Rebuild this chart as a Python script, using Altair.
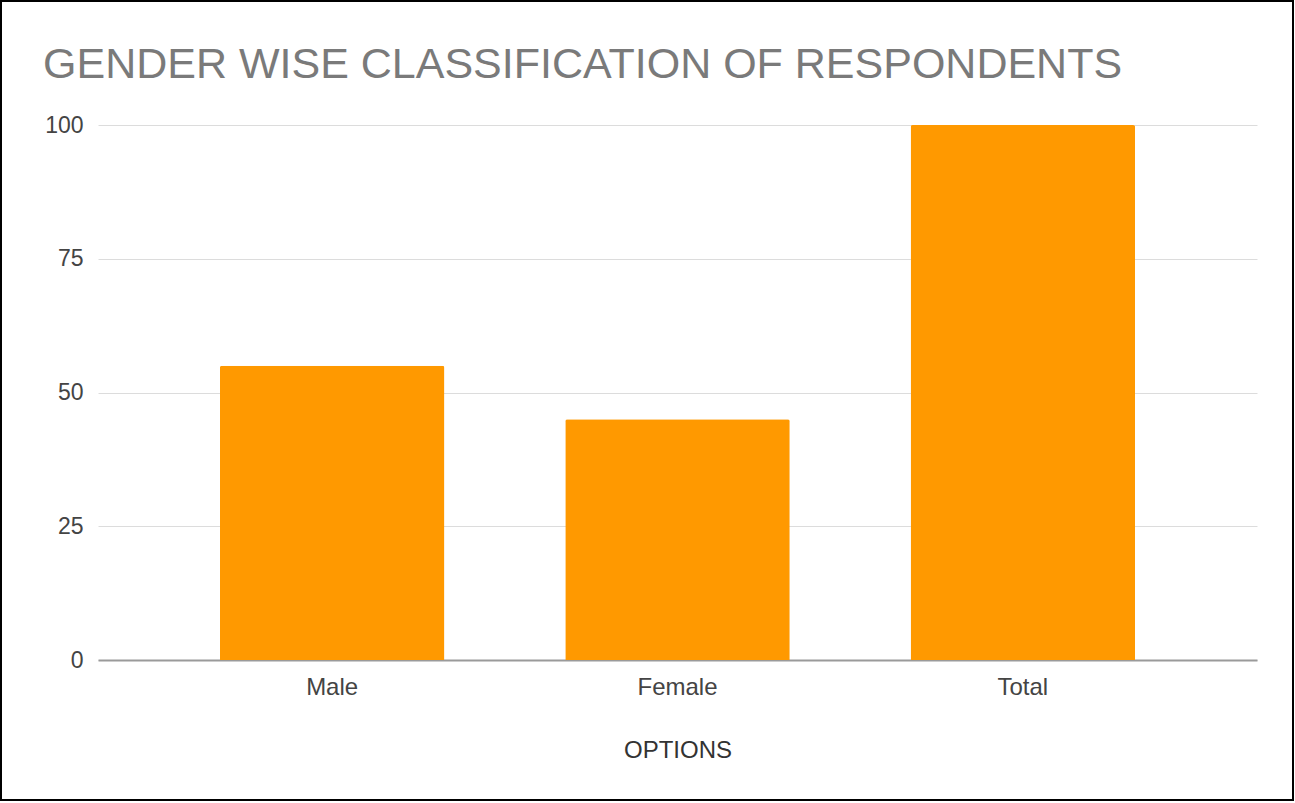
import altair as alt
import pandas as pd

categories = ["Male", "Female", "Total"]
values = [55, 45, 100]

df = pd.DataFrame({"OPTIONS": categories, "Respondents": values})

W, H = 1159, 535
FONT = "Liberation Sans"

bars = alt.Chart(df).mark_bar(
    color="#FF9900", cornerRadiusTopLeft=2, cornerRadiusTopRight=2
).encode(
    x=alt.X(
        "OPTIONS:N",
        sort=categories,
        scale=alt.Scale(paddingInner=0.35, paddingOuter=0.353),
        axis=alt.Axis(
            title="OPTIONS",
            labelAngle=0,
            labelFontSize=24,
            labelColor="#444444",
            labelPadding=15,
            ticks=False,
            domain=True,
            domainColor="#9a9a9a",
            domainWidth=2,
            titleFontSize=24,
            titleFontWeight="normal",
            titleColor="#333333",
            titlePadding=39,
            grid=False,
        ),
    ),
    y=alt.Y(
        "Respondents:Q",
        scale=alt.Scale(domain=[0, 100]),
        axis=alt.Axis(
            title=None,
            values=[0, 25, 50, 75, 100],
            labelFontSize=23,
            labelColor="#444444",
            labelPadding=15,
            ticks=False,
            domain=False,
            gridColor="#dcdcdc",
            gridWidth=1,
        ),
    ),
)

frame = alt.Chart(df).mark_rect(
    fill=None, stroke="#000000", strokeWidth=2, clip=False
).encode(
    x=alt.value(-97), x2=alt.value(1195), y=alt.value(-124), y2=alt.value(675)
)

chart = alt.layer(bars, frame.transform_filter("datum.OPTIONS == 'Male'")).properties(
    width=W,
    height=H,
    autosize=alt.AutoSizeParams(type="none"),
    padding={"left": 98, "top": 125, "right": 38, "bottom": 143},
    title=alt.Title(
        "GENDER WISE CLASSIFICATION OF RESPONDENTS",
        anchor="start",
        frame="group",
        dx=-55,
        offset=-87,
        fontSize=43,
        fontWeight="normal",
        color="#7a7a7a",
        font=FONT,
    ),
).configure(font=FONT, background="white").configure_view(stroke=None)

chart.save("out.html", embed_options={"renderer": "svg", "actions": False})
